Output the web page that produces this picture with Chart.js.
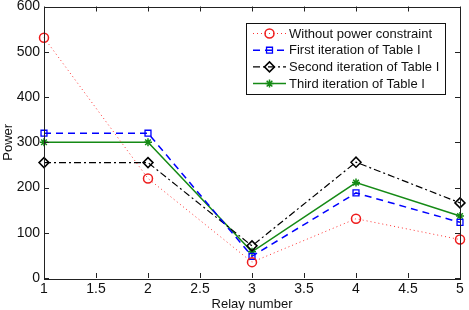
<!DOCTYPE html>
<html>
<head>
<meta charset="utf-8">
<script src="https://cdn.jsdelivr.net/npm/chart.js@4"></script>
<style>
  html, body { margin: 0; padding: 0; background: #fff; }
  #wrap { width: 469px; height: 310px; position: relative; }
</style>
</head>
<body>
<div id="wrap"><canvas id="c"></canvas></div>
<script>
// relay index on the x axis
const relays = [1, 2, 3, 4, 5];
const withoutConstraint = [531, 220, 35, 131, 85];
const firstIter  = [320, 320, 48, 188, 123];
const secondIter = [255, 255, 71, 256, 166];
const thirdIter  = [300, 300, 58, 211, 137];
const xTicks = [1, 1.5, 2, 2.5, 3, 3.5, 4, 4.5, 5];
const yTicks = [0, 100, 200, 300, 400, 500, 600];

const FONT = 'Liberation Sans, Arial, Helvetica, sans-serif';
const pts = arr => arr.map((v, i) => ({ x: relays[i], y: v }));

// ticks pointing inwards + closed box, matlab style
const boxPlugin = {
  id: 'box',
  afterDraw(chart) {
    const { ctx, chartArea: a, scales } = chart;
    ctx.save();
    ctx.strokeStyle = '#222';
    ctx.lineWidth = 1;
    ctx.beginPath();
    xTicks.forEach(v => {
      const x = Math.round(scales.x.getPixelForValue(v)) + 0.5;
      ctx.moveTo(x, a.bottom); ctx.lineTo(x, a.bottom - 5);
      ctx.moveTo(x, a.top); ctx.lineTo(x, a.top + 5);
    });
    yTicks.forEach(v => {
      const y = Math.round(scales.y.getPixelForValue(v)) + 0.5;
      ctx.moveTo(a.left, y); ctx.lineTo(a.left + 5, y);
      ctx.moveTo(a.right, y); ctx.lineTo(a.right - 5, y);
    });
    ctx.stroke();
    ctx.strokeRect(Math.round(a.left) + 0.5, Math.round(a.top) + 0.5,
                   Math.round(a.right - a.left), Math.round(a.bottom - a.top));
    ctx.restore();
  }
};

// legend box with line + marker samples
const legendPlugin = {
  id: 'mlegend',
  afterDraw(chart) {
    const ctx = chart.ctx;
    const bx = 246, by = 23, bw = 199, bh = 71;
    ctx.save();
    ctx.fillStyle = '#fff';
    ctx.fillRect(bx, by, bw, bh);
    ctx.strokeStyle = '#111';
    ctx.lineWidth = 1;
    ctx.strokeRect(bx + 0.5, by + 0.5, bw, bh);
    chart.data.datasets.forEach((ds, i) => {
      const y = by + 10.5 + i * 16.7;
      ctx.strokeStyle = ds.borderColor;
      ctx.lineWidth = ds.borderWidth;
      ctx.setLineDash(ds.borderDash || []);
      ctx.beginPath();
      ctx.moveTo(253, y); ctx.lineTo(286, y);
      ctx.stroke();
      ctx.setLineDash([]);
      ctx.fillStyle = ds.pointBackgroundColor;
      ctx.strokeStyle = ds.pointBorderColor;
      ctx.lineWidth = ds.pointBorderWidth;
      Chart.helpers.drawPoint(ctx, { pointStyle: ds.pointStyle, radius: ds.pointRadius, borderWidth: ds.pointBorderWidth, rotation: 0 }, 269.5, y);
      ctx.fillStyle = '#111';
      ctx.font = '13px ' + FONT;
      ctx.textBaseline = 'middle';
      ctx.fillText(ds.label, 289, y + 0.5);
    });
    ctx.restore();
  }
};

new Chart(document.getElementById('c'), {
  type: 'line',
  data: {
    datasets: [
      {
        label: 'Without power constraint',
        data: pts(withoutConstraint),
        borderColor: '#ff3030', borderWidth: 1, borderDash: [1, 3],
        pointStyle: 'circle', pointRadius: 4.5, pointBorderWidth: 1.5,
        pointBorderColor: '#ee1c1c', pointBackgroundColor: 'rgba(0,0,0,0)',
        clip: false
      },
      {
        label: 'First iteration of Table I',
        data: pts(firstIter),
        borderColor: '#0000ff', borderWidth: 1.5, borderDash: [7, 5],
        pointStyle: 'rect', pointRadius: 4.2, pointBorderWidth: 1.3,
        pointBorderColor: '#0000ff', pointBackgroundColor: 'rgba(0,0,0,0)',
        clip: false
      },
      {
        label: 'Second iteration of Table I',
        data: pts(secondIter),
        borderColor: '#000', borderWidth: 1.2, borderDash: [7, 3, 2, 3],
        pointStyle: 'rectRot', pointRadius: 5, pointBorderWidth: 1.5,
        pointBorderColor: '#000', pointBackgroundColor: 'rgba(0,0,0,0)',
        clip: false
      },
      {
        label: 'Third iteration of Table I',
        data: pts(thirdIter),
        borderColor: '#158a15', borderWidth: 1.5,
        pointStyle: 'star', pointRadius: 4, pointBorderWidth: 1.5,
        pointBorderColor: '#158a15', pointBackgroundColor: '#158a15',
        clip: false
      }
    ]
  },
  options: {
    responsive: true,
    maintainAspectRatio: false,
    animation: false,
    tension: 0,
    layout: { padding: { top: 6, right: 9, left: 0, bottom: 0 } },
    plugins: { legend: { display: false }, tooltip: { enabled: false } },
    scales: {
      x: {
        type: 'linear', min: 1, max: 5,
        grid: { display: false, drawTicks: false }, border: { display: false },
        afterBuildTicks: s => { s.ticks = xTicks.map(v => ({ value: v })); },
        afterFit: s => { s.height = 32; s.paddingLeft = 0; s.paddingRight = 0; },
        ticks: { color: '#111', padding: 3, font: { family: FONT, size: 14 }, maxRotation: 0, callback: v => String(v) },
        title: { display: true, text: 'Relay number', color: '#111', padding: { top: 0, bottom: -2 }, font: { family: FONT, size: 13 } }
      },
      y: {
        min: 0, max: 600,
        grid: { display: false, drawTicks: false }, border: { display: false },
        afterBuildTicks: s => { s.ticks = yTicks.map(v => ({ value: v })); },
        afterFit: s => { s.width = 44; s.paddingTop = 0; s.paddingBottom = 0; },
        ticks: { color: '#111', padding: 4, font: { family: FONT, size: 14 } },
        title: { display: true, text: 'Power', color: '#111', padding: { top: 1, bottom: 0 }, font: { family: FONT, size: 13 } }
      }
    }
  },
  plugins: [boxPlugin, legendPlugin]
});
</script>
</body>
</html>
